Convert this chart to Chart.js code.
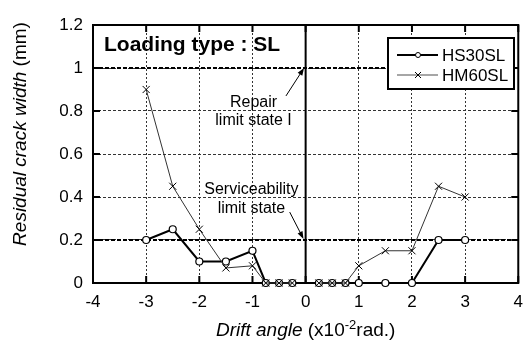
<!DOCTYPE html>
<html>
<head>
<meta charset="utf-8">
<script src="https://cdn.jsdelivr.net/npm/chart.js@4/dist/chart.umd.min.js"></script>
<style>
  html, body { margin: 0; padding: 0; background: #fff; }
  #wrap { width: 532px; height: 342px; }
</style>
</head>
<body>
<div id="wrap"><canvas id="canvas" width="532" height="342"></canvas></div>
<script>
// drift angle (x10^-2 rad), null at 0 splits the negative / positive branch
var drift = [-3, -2.5, -2, -1.5, -1, -0.75, -0.5, -0.25, 0, 0.25, 0.5, 0.75, 1, 1.5, 2, 2.5, 3];
var hs30 = [0.2, 0.25, 0.1, 0.1, 0.15, 0, 0, 0, null, 0, 0, 0, 0, 0, 0, 0.2, 0.2];
var hm60 = [0.9, 0.45, 0.25, 0.07, 0.08, 0, 0, 0, null, 0, 0, 0, 0.08, 0.15, 0.15, 0.45, 0.4];
var seriesNames = ['HS30SL', 'HM60SL'];

var xTicks = [-4, -3, -2, -1, 0, 1, 2, 3, 4];
var yTicks = [0, 0.2, 0.4, 0.6, 0.8, 1, 1.2];
var limitLevels = [0.2, 1.0];

var font = 'Liberation Sans, Arial, sans-serif';

function pts(xs, ys) {
    var out = [];
    for (var i = 0; i < xs.length; i++) out.push({ x: xs[i], y: ys[i] });
    return out;
}

function arrow(ctx, x1, y1, x2, y2) {
    var a = Math.atan2(y2 - y1, x2 - x1), h = 8;
    ctx.beginPath();
    ctx.moveTo(x1, y1);
    ctx.lineTo(x2 - Math.cos(a) * 4, y2 - Math.sin(a) * 4);
    ctx.stroke();
    ctx.beginPath();
    ctx.moveTo(x2, y2);
    ctx.lineTo(x2 - h * Math.cos(a - 0.35), y2 - h * Math.sin(a - 0.35));
    ctx.lineTo(x2 - h * Math.cos(a + 0.35), y2 - h * Math.sin(a + 0.35));
    ctx.closePath();
    ctx.fill();
}

// frame, inner tick marks, limit lines and the x = 0 divider
var framePlugin = {
    id: 'frame',
    beforeDatasetsDraw: function (chart) {
        var ctx = chart.ctx, a = chart.chartArea, sx = chart.scales.x, sy = chart.scales.y;
        ctx.save();
        ctx.strokeStyle = '#000';
        // limit state lines
        ctx.lineWidth = 2;
        ctx.setLineDash([4, 2]);
        limitLevels.forEach(function (v) {
            var py = sy.getPixelForValue(v);
            ctx.beginPath(); ctx.moveTo(a.left, py); ctx.lineTo(a.right, py); ctx.stroke();
        });
        ctx.setLineDash([]);
        // divider at zero drift
        var x0 = sx.getPixelForValue(0);
        ctx.beginPath(); ctx.moveTo(x0, a.top); ctx.lineTo(x0, a.bottom); ctx.stroke();
        // inward ticks
        sx.ticks.forEach(function (t) {
            var px = sx.getPixelForValue(t.value);
            ctx.beginPath();
            ctx.moveTo(px, a.bottom); ctx.lineTo(px, a.bottom - 7);
            ctx.moveTo(px, a.top); ctx.lineTo(px, a.top + 7);
            ctx.stroke();
        });
        sy.ticks.forEach(function (t) {
            var py = sy.getPixelForValue(t.value);
            ctx.beginPath();
            ctx.moveTo(a.left, py); ctx.lineTo(a.left + 7, py);
            ctx.moveTo(a.right, py); ctx.lineTo(a.right - 7, py);
            ctx.stroke();
        });
        ctx.strokeRect(a.left, a.top, a.right - a.left, a.bottom - a.top);
        ctx.restore();
    },
    afterDraw: function (chart) {
        var ctx = chart.ctx, a = chart.chartArea, sx = chart.scales.x, sy = chart.scales.y;
        ctx.save();
        ctx.fillStyle = '#000';
        ctx.strokeStyle = '#000';

        // loading type label
        ctx.font = 'bold 21px ' + font;
        ctx.textAlign = 'left';
        ctx.textBaseline = 'alphabetic';
        ctx.fillText('Loading type : SL', a.left + 11, 51);

        // annotations with arrows
        ctx.font = '16px ' + font;
        ctx.textAlign = 'center';
        var cx = sx.getPixelForValue(-0.98);
        ctx.fillText('Repair', cx, 107);
        ctx.fillText('limit state I', cx, 125);
        ctx.lineWidth = 1;
        arrow(ctx, sx.getPixelForValue(-0.37), sy.getPixelForValue(0.87), sx.getPixelForValue(-0.03), sy.getPixelForValue(1.0));
        cx = sx.getPixelForValue(-1.02);
        ctx.fillText('Serviceability', cx, 194);
        ctx.fillText('limit state', cx, 213);
        arrow(ctx, sx.getPixelForValue(-0.3), sy.getPixelForValue(0.33), sx.getPixelForValue(-0.04), sy.getPixelForValue(0.205));

        // legend
        var lx = 388, ly = 38, lw = 126, lh = 51;
        ctx.fillStyle = '#fff';
        ctx.fillRect(lx, ly, lw, lh);
        ctx.lineWidth = 2;
        ctx.strokeRect(lx, ly, lw, lh);
        chart.data.datasets.forEach(function (ds, i) {
            var y = 55 + i * 20;
            ctx.strokeStyle = i === 0 ? '#000' : '#888';
            ctx.lineWidth = i === 0 ? 2 : 1.5;
            ctx.beginPath(); ctx.moveTo(397, y); ctx.lineTo(438, y); ctx.stroke();
            ctx.lineWidth = 1;
            ctx.strokeStyle = '#000';
            if (i === 0) {
                ctx.fillStyle = '#fff';
                ctx.beginPath(); ctx.arc(418, y, 2.5, 0, Math.PI * 2); ctx.fill(); ctx.stroke();
            } else {
                ctx.beginPath();
                ctx.moveTo(415, y - 3); ctx.lineTo(421, y + 3);
                ctx.moveTo(421, y - 3); ctx.lineTo(415, y + 3);
                ctx.stroke();
            }
            ctx.fillStyle = '#000';
            ctx.font = '17px ' + font;
            ctx.textAlign = 'left';
            ctx.textBaseline = 'middle';
            ctx.fillText(ds.label, 442, y + 1);
        });

        // x axis title with italic name and superscript
        ctx.textBaseline = 'alphabetic';
        ctx.textAlign = 'left';
        var p1 = 'Drift angle', p2 = ' (x10', p3 = '-2', p4 = 'rad.)';
        ctx.font = 'italic 19px ' + font; var w1 = ctx.measureText(p1).width;
        ctx.font = '19px ' + font; var w2 = ctx.measureText(p2).width, w4 = ctx.measureText(p4).width;
        ctx.font = '13px ' + font; var w3 = ctx.measureText(p3).width;
        var tx = sx.getPixelForValue(0) - (w1 + w2 + w3 + w4) / 2, ty = 336;
        ctx.font = 'italic 19px ' + font; ctx.fillText(p1, tx, ty); tx += w1;
        ctx.font = '19px ' + font; ctx.fillText(p2, tx, ty); tx += w2;
        ctx.font = '13px ' + font; ctx.fillText(p3, tx, ty - 7); tx += w3;
        ctx.font = '19px ' + font; ctx.fillText(p4, tx, ty);

        // y axis title, rotated
        ctx.save();
        ctx.translate(26, 134);
        ctx.rotate(-Math.PI / 2);
        var q1 = 'Residual crack width', q2 = ' (mm)';
        ctx.font = 'italic 19px ' + font; var v1 = ctx.measureText(q1).width;
        ctx.font = '19px ' + font; var v2 = ctx.measureText(q2).width;
        var sx0 = -(v1 + v2) / 2;
        ctx.font = 'italic 19px ' + font; ctx.fillText(q1, sx0, 0);
        ctx.font = '19px ' + font; ctx.fillText(q2, sx0 + v1, 0);
        ctx.restore();

        ctx.restore();
    }
};

var ctx = document.getElementById('canvas');
var myChart = new Chart(ctx, {
    type: 'line',
    data: {
        datasets: [
            {
                label: seriesNames[0],
                data: pts(drift, hs30),
                order: 1,
                borderColor: '#000',
                borderWidth: 2,
                pointStyle: 'circle',
                pointRadius: 3.5,
                pointBackgroundColor: '#fff',
                pointBorderColor: '#000',
                pointBorderWidth: 1.2,
                spanGaps: false,
                clip: false,
                tension: 0
            },
            {
                label: seriesNames[1],
                data: pts(drift, hm60),
                order: 0,
                borderColor: '#333',
                borderWidth: 1,
                pointStyle: 'crossRot',
                pointRadius: 5,
                pointBorderColor: '#000',
                pointBorderWidth: 1,
                spanGaps: false,
                clip: false,
                tension: 0
            }
        ]
    },
    options: {
        responsive: false,
        animation: false,
        layout: { padding: { top: 25, right: 6, left: 0, bottom: 0 } },
        plugins: { legend: { display: false }, tooltip: { enabled: false } },
        scales: {
            x: {
                type: 'linear',
                min: -4, max: 4,
                afterBuildTicks: function (s) { s.ticks = xTicks.map(function (v) { return { value: v }; }); },
                afterFit: function (s) { s.height = 59; },
                ticks: { color: '#000', font: { family: font, size: 17 }, padding: 9, maxRotation: 0 },
                grid: {
                    drawTicks: false,
                    color: function (c) {
                        var v = c.tick && c.tick.value;
                        return (v === 0 || v === -4 || v === 4) ? 'transparent' : '#333';
                    },
                    lineWidth: 1
                },
                border: { display: false, dash: [2, 2] }
            },
            y: {
                min: 0, max: 1.2,
                afterBuildTicks: function (s) { s.ticks = yTicks.map(function (v) { return { value: v }; }); },
                afterFit: function (s) { s.width = 93; },
                ticks: {
                    color: '#000', font: { family: font, size: 17 }, padding: 10,
                    callback: function (v) { return String(Math.round(v * 10) / 10); }
                },
                grid: {
                    drawTicks: false,
                    color: function (c) {
                        var v = c.tick && c.tick.value;
                        if (v === 0 || v === 1.2) return 'transparent';
                        return '#333';
                    },
                    lineWidth: 1
                },
                border: { display: false, dash: [3, 2] }
            }
        }
    },
    plugins: [framePlugin]
});
</script>
</body>
</html>
